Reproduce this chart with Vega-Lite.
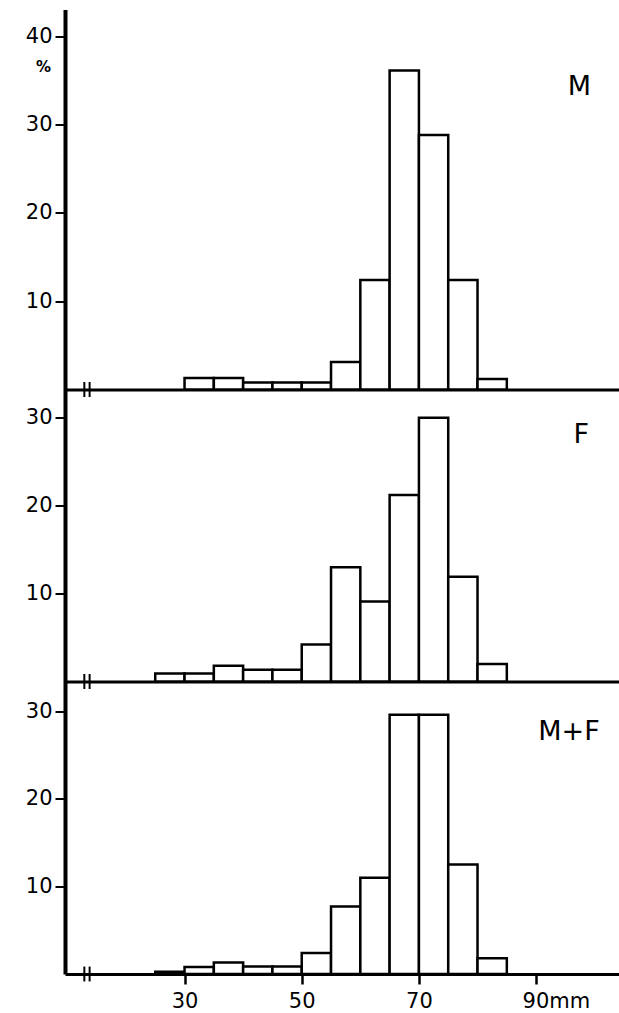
{
  "$schema": "https://vega.github.io/schema/vega-lite/v6.json",
  "autosize": {"type": "pad"},
  "padding": {"left": 25, "top": 9.5, "right": 0, "bottom": 0},
  "spacing": 0,
  "bounds": "flush",
  "background": "white",
  "config": {
    "view": {"stroke": null},
    "font": "DejaVu Sans",
    "axis": {"grid": false, "domainColor": "black", "tickColor": "black", "labelColor": "black", "titleColor": "black"}
  },
  "datasets": {
    "bars": [
      {"panel": "M", "start": 30, "end": 35, "pct": 1.3},
      {"panel": "M", "start": 35, "end": 40, "pct": 1.3},
      {"panel": "M", "start": 40, "end": 45, "pct": 0.8},
      {"panel": "M", "start": 45, "end": 50, "pct": 0.8},
      {"panel": "M", "start": 50, "end": 55, "pct": 0.8},
      {"panel": "M", "start": 55, "end": 60, "pct": 3.1},
      {"panel": "M", "start": 60, "end": 65, "pct": 12.4},
      {"panel": "M", "start": 65, "end": 70, "pct": 36.1},
      {"panel": "M", "start": 70, "end": 75, "pct": 28.8},
      {"panel": "M", "start": 75, "end": 80, "pct": 12.4},
      {"panel": "M", "start": 80, "end": 85, "pct": 1.2},
      {"panel": "F", "start": 25, "end": 30, "pct": 0.9},
      {"panel": "F", "start": 30, "end": 35, "pct": 0.9},
      {"panel": "F", "start": 35, "end": 40, "pct": 1.8},
      {"panel": "F", "start": 40, "end": 45, "pct": 1.35},
      {"panel": "F", "start": 45, "end": 50, "pct": 1.35},
      {"panel": "F", "start": 50, "end": 55, "pct": 4.2},
      {"panel": "F", "start": 55, "end": 60, "pct": 13.0},
      {"panel": "F", "start": 60, "end": 65, "pct": 9.1},
      {"panel": "F", "start": 65, "end": 70, "pct": 21.2},
      {"panel": "F", "start": 70, "end": 75, "pct": 30.0},
      {"panel": "F", "start": 75, "end": 80, "pct": 11.9},
      {"panel": "F", "start": 80, "end": 85, "pct": 2.0},
      {"panel": "M+F", "start": 25, "end": 30, "pct": 0.25},
      {"panel": "M+F", "start": 30, "end": 35, "pct": 0.8},
      {"panel": "M+F", "start": 35, "end": 40, "pct": 1.3},
      {"panel": "M+F", "start": 40, "end": 45, "pct": 0.85},
      {"panel": "M+F", "start": 45, "end": 50, "pct": 0.85},
      {"panel": "M+F", "start": 50, "end": 55, "pct": 2.4},
      {"panel": "M+F", "start": 55, "end": 60, "pct": 7.7},
      {"panel": "M+F", "start": 60, "end": 65, "pct": 11.0},
      {"panel": "M+F", "start": 65, "end": 70, "pct": 29.6},
      {"panel": "M+F", "start": 70, "end": 75, "pct": 29.6},
      {"panel": "M+F", "start": 75, "end": 80, "pct": 12.5},
      {"panel": "M+F", "start": 80, "end": 85, "pct": 1.8}
    ],
    "labels": [
      {"panel": "M", "x": 97.4, "y": 34.2, "label": "M"},
      {"panel": "F", "x": 97.7, "y": 28.0, "label": "F"},
      {"panel": "M+F", "x": 95.6, "y": 27.6, "label": "M+F"}
    ],
    "breaks": [
      {"x": 12.9, "lo": -0.85, "hi": 0.85},
      {"x": 13.8, "lo": -0.85, "hi": 0.85}
    ]
  },
  "vconcat": [
    {
      "width": 555.5,
      "height": 380,
      "layer": [
        {
          "data": {"name": "bars"},
          "transform": [{"filter": "datum.panel == 'M'"}],
          "mark": {"type": "rect", "fill": "white", "stroke": "black", "strokeWidth": 2.5},
          "encoding": {
            "x": {"field": "start", "type": "quantitative", "scale": {"domain": [9.6, 104.4], "nice": false, "zero": false},
              "axis": {"labels": false, "ticks": false, "title": null, "domainWidth": 3}},
            "x2": {"field": "end"},
            "y": {"field": "pct", "type": "quantitative", "scale": {"domain": [0, 43], "nice": false},
              "axis": {"values": [10, 20, 30, 40], "domainWidth": 4, "tickWidth": 2, "tickSize": 10, "labelPadding": 3, "labelFontSize": 21,
                "title": "%", "titleAngle": 0, "titleX": -22, "titleY": 56.5, "titleFontSize": 15, "titleFontWeight": "bold", "titleAlign": "center", "titleBaseline": "middle"}},
            "y2": {"datum": 0}
          }
        },
        {
          "data": {"name": "breaks"},
          "mark": {"type": "rule", "stroke": "black", "strokeWidth": 2},
          "encoding": {
            "x": {"field": "x", "type": "quantitative"},
            "y": {"field": "lo", "type": "quantitative"},
            "y2": {"field": "hi"}
          }
        },
        {
          "data": {"name": "labels"},
          "transform": [{"filter": "datum.panel == 'M'"}],
          "mark": {"type": "text", "fontSize": 27, "align": "center", "baseline": "middle", "color": "black"},
          "encoding": {
            "x": {"field": "x", "type": "quantitative"},
            "y": {"field": "y", "type": "quantitative"},
            "text": {"field": "label"}
          }
        }
      ]
    },
    {
      "width": 555.5,
      "height": 292,
      "layer": [
        {
          "data": {"name": "bars"},
          "transform": [{"filter": "datum.panel == 'F'"}],
          "mark": {"type": "rect", "fill": "white", "stroke": "black", "strokeWidth": 2.5},
          "encoding": {
            "x": {"field": "start", "type": "quantitative", "scale": {"domain": [9.6, 104.4], "nice": false, "zero": false},
              "axis": {"labels": false, "ticks": false, "title": null, "domainWidth": 3}},
            "x2": {"field": "end"},
            "y": {"field": "pct", "type": "quantitative", "scale": {"domain": [0, 33.2], "nice": false},
              "axis": {"values": [10, 20, 30], "domainWidth": 4, "tickWidth": 2, "tickSize": 10, "labelPadding": 3, "labelFontSize": 21, "title": null}},
            "y2": {"datum": 0}
          }
        },
        {
          "data": {"name": "breaks"},
          "mark": {"type": "rule", "stroke": "black", "strokeWidth": 2},
          "encoding": {
            "x": {"field": "x", "type": "quantitative"},
            "y": {"field": "lo", "type": "quantitative"},
            "y2": {"field": "hi"}
          }
        },
        {
          "data": {"name": "labels"},
          "transform": [{"filter": "datum.panel == 'F'"}],
          "mark": {"type": "text", "fontSize": 27, "align": "center", "baseline": "middle", "color": "black"},
          "encoding": {
            "x": {"field": "x", "type": "quantitative"},
            "y": {"field": "y", "type": "quantitative"},
            "text": {"field": "label"}
          }
        }
      ]
    },
    {
      "width": 555.5,
      "height": 292.5,
      "layer": [
        {
          "data": {"name": "bars"},
          "transform": [{"filter": "datum.panel == 'M+F'"}],
          "mark": {"type": "rect", "fill": "white", "stroke": "black", "strokeWidth": 2.5},
          "encoding": {
            "x": {"field": "start", "type": "quantitative", "scale": {"domain": [9.6, 104.4], "nice": false, "zero": false},
              "axis": {"values": [30, 50, 70, 90], "title": null, "domainWidth": 3, "tickSize": 10, "tickWidth": 2.5, "labelFontSize": 21, "labelPadding": 6,
                "labelExpr": "datum.value == 90 ? '90mm' : datum.label",
                "labelAlign": {"expr": "datum.value == 90 ? 'left' : 'center'"},
                "labelOffset": {"expr": "datum.value == 90 ? -14 : 0"}}},
            "x2": {"field": "end"},
            "y": {"field": "pct", "type": "quantitative", "scale": {"domain": [0, 33.4], "nice": false},
              "axis": {"values": [10, 20, 30], "domainWidth": 4, "tickWidth": 2, "tickSize": 10, "labelPadding": 3, "labelFontSize": 21, "title": null}},
            "y2": {"datum": 0}
          }
        },
        {
          "data": {"name": "breaks"},
          "mark": {"type": "rule", "stroke": "black", "strokeWidth": 2},
          "encoding": {
            "x": {"field": "x", "type": "quantitative"},
            "y": {"field": "lo", "type": "quantitative"},
            "y2": {"field": "hi"}
          }
        },
        {
          "data": {"name": "labels"},
          "transform": [{"filter": "datum.panel == 'M+F'"}],
          "mark": {"type": "text", "fontSize": 27, "align": "center", "baseline": "middle", "color": "black"},
          "encoding": {
            "x": {"field": "x", "type": "quantitative"},
            "y": {"field": "y", "type": "quantitative"},
            "text": {"field": "label"}
          }
        }
      ]
    }
  ]
}
